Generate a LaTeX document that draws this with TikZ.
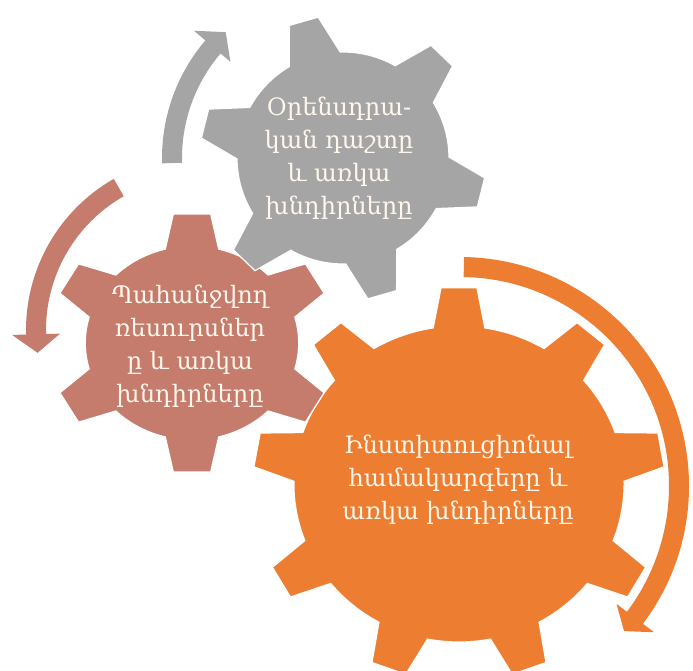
\documentclass[tikz,border=0pt]{standalone}
\usepackage{fontspec}
\setmainfont{DejaVu Serif}
\definecolor{orangegear}{RGB}{237,125,49}
\definecolor{browngear}{RGB}{197,124,109}
\definecolor{graygear}{RGB}{165,165,165}
\definecolor{textcream}{RGB}{255,247,235}
\tikzset{
  gearshape/.style={draw=white, line width=1.2pt, line join=miter},
  gearlabel/.style={text=textcream, align=center, font=\fontsize{24}{33}\selectfont},
}
\begin{document}
\begin{tikzpicture}[x=1pt,y=1pt]
\clip (0,0) rectangle (693,670);
% arrows
\begin{scope}[shift={(343,512)}]
  \fill[graygear] (181.7:161) arc[start angle=181.7, end angle=139.5, radius=161]
    -- (139.5:148) -- (133:172) -- (139.5:196) -- (139.5:181)
    arc[start angle=139.5, end angle=181.7, radius=181] -- cycle;
\end{scope}
\begin{scope}[shift={(200,340)}]
  \fill[browngear] (119.7:154) arc[start angle=119.7, end angle=181.5, radius=154]
    -- (181.5:140) -- (188:164) -- (181.5:188) -- (181.5:174)
    arc[start angle=181.5, end angle=119.7, radius=174] -- cycle;
\end{scope}
\begin{scope}[shift={(460,184)}]
  \fill[orangegear] (89:209) arc[start angle=89, end angle=-37, radius=209]
    -- (-37:196) -- (-41.5:219) -- (-37:243) -- (-37:229)
    arc[start angle=-37, end angle=89, radius=229] -- cycle;
\end{scope}
% gears
\begin{scope}[shift={(459,186)}, xscale=1.045]
  \filldraw[gearshape, fill=orangegear] (1:158)
    \foreach \a in {10,50,...,330} {
      -- (\a-9:158) -- (\a-5:197) -- (\a+5:197) -- (\a+9:158)
      arc[start angle=\a+9, delta angle=22, radius=158]
    } -- cycle;
\end{scope}
\begin{scope}[shift={(192,327)}, xscale=1.1]
  \filldraw[gearshape, fill=browngear] (15.5:97)
    \foreach \a in {30,90,...,330} {
      -- (\a-14.5:97) -- (\a-7.5:130) -- (\a+7.5:130) -- (\a+14.5:97)
      arc[start angle=\a+14.5, delta angle=31, radius=97]
    } -- cycle;
\end{scope}
\begin{scope}[shift={(343,512)}]
  \filldraw[gearshape, fill=graygear] (31.5:106)
    \foreach \a in {46,106,...,346} {
      -- (\a-14.5:106) -- (\a-6:143) -- (\a+6:143) -- (\a+14.5:106)
      arc[start angle=\a+14.5, delta angle=31, radius=106]
    } -- cycle;
\end{scope}
% labels
\node[gearlabel] (legal) at (339,512) {Օրենսդրա-\\կան դաշտը\\և առկա\\խնդիրները};
\node[gearlabel] (resources) at (190,324) {Պահանջվող\\ռեսուրսներ\\ը և առկա\\խնդիրները};
\node[gearlabel] (institutional) at (458,190) {Ինստիտուցիոնալ\\համակարգերը և\\առկա խնդիրները};
\end{tikzpicture}
\end{document}
